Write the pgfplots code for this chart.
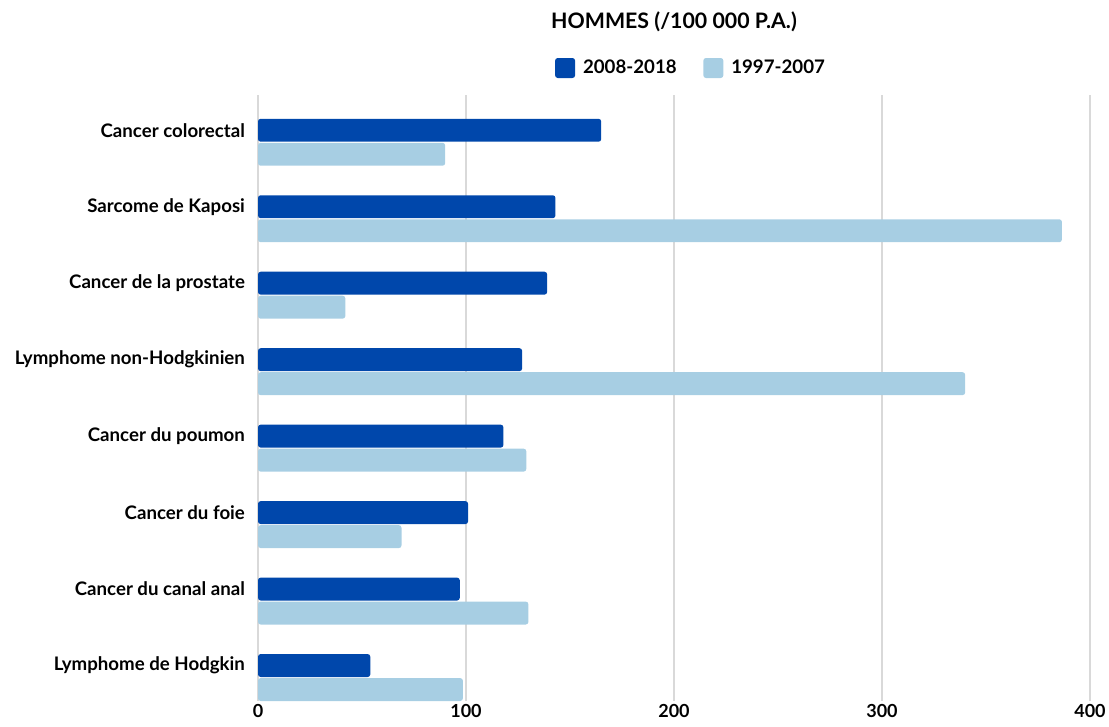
\documentclass[border=0pt]{standalone}
\usepackage{fontspec}
\setmainfont{Lato}
\usepackage{pgfplots}
\pgfplotsset{compat=1.18}
\definecolor{darkb}{HTML}{0047AB}
\definecolor{lightb}{HTML}{A7CEE3}
\definecolor{gridc}{HTML}{D9D9D9}
\begin{document}
\begin{tikzpicture}
\begin{axis}[
  at={(193.5pt,18.75pt)}, anchor=south west,
  scale only axis, width=624pt, height=454.5pt,
  xbar, bar width=0.30, bar shift=0pt,
  xmin=0, xmax=400, ymin=-0.618, ymax=7.307,
  y dir=reverse,
  xtick={0,100,200,300,400},
  ytick={-0.157,0.843,1.843,2.843,3.843,4.843,5.843,6.843},
  yticklabels={Cancer colorectal,Sarcome de Kaposi,Cancer de la prostate,Lymphome non-Hodgkinien,Cancer du poumon,Cancer du foie,Cancer du canal anal,Lymphome de Hodgkin},
  axis line style={draw=none},
  major tick length=0pt,
  xmajorgrids, grid style={gridc, line width=0.9pt},
  yticklabel style={font=\fontsize{14}{16}\selectfont\bfseries, xshift=-6.3pt},
  xticklabel style={font=\fontsize{13.5}{15}\selectfont\bfseries, yshift=-1pt, inner sep=1pt},
  /pgf/number format/assume math mode=true,
  title={HOMMES (/100 000 P.A.)},
  title style={at={(0.5,1)}, anchor=center, yshift=48.75pt, font=\fontsize{16}{19}\selectfont\bfseries},
  legend style={at={(0.5,1)}, anchor=center, yshift=20.25pt, xshift=13pt, draw=none, fill=none,
    font=\fontsize{14}{16}\selectfont\bfseries, legend columns=2,
    /tikz/every odd column/.append style={column sep=4pt},
    /tikz/every even column/.append style={column sep=18pt}},
  legend image code/.code={\fill[#1,draw=none] (0pt,-7.5pt) rectangle (15pt,7.5pt);},
]
\addplot[fill=darkb, draw=none, rounded corners=2pt] coordinates {
  (165,-0.157) (143,0.843) (139,1.843) (127,2.843) (118,3.843) (101,4.843) (97,5.843) (54,6.843)};
\addlegendentry{2008-2018}
\addplot[fill=lightb, draw=none, rounded corners=2pt] coordinates {
  (90,0.157) (386.5,1.157) (42,2.157) (340,3.157) (129,4.157) (69,5.157) (130,6.157) (98.5,7.157)};
\addlegendentry{1997-2007}
\end{axis}
\pgfresetboundingbox
\useasboundingbox (0,0) rectangle (831.75pt,544.5pt);
\end{tikzpicture}
\end{document}
